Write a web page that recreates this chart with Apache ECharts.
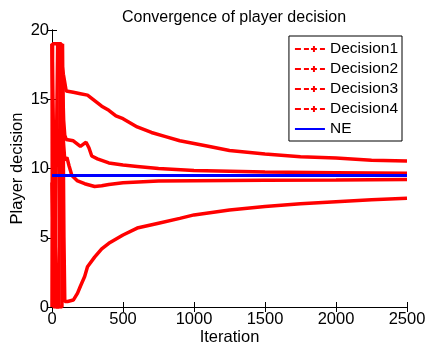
<!DOCTYPE html>
<html lang="en">
<head>
    <meta charset="utf-8"/>
    <title>Convergence of player decision</title>
    <script src="https://cdn.jsdelivr.net/npm/echarts@6/dist/echarts.min.js"></script>
</head>
<style>
    body { margin: 0; background: #fff; }
</style>
<body>
<div id="main" style="width: 426px;height: 348px;"></div>
<script>
    // [iteration, decision]
    var decision1 = [[0, 0], [4, 19], [45, 19], [60, 18.5], [70, 17.5], [80, 16.8], [90, 16.2], [100, 15.6],
        [150, 15.5], [200, 15.4], [250, 15.3], [300, 14.9], [350, 14.5], [400, 14.2], [450, 13.8], [500, 13.6],
        [600, 13.0], [700, 12.6], [800, 12.3], [900, 12.0], [1000, 11.8], [1100, 11.6], [1250, 11.3],
        [1500, 11.05], [1750, 10.85], [2000, 10.75], [2250, 10.6], [2500, 10.55]];
    var decision2 = [[0, 19], [12, 19], [30, 0], [48, 0], [58, 19], [68, 18], [75, 16], [82, 13.5], [90, 12.4],
        [100, 12.1], [150, 12.0], [200, 11.6], [240, 11.9], [260, 11.5], [280, 10.9], [320, 10.7], [400, 10.4],
        [500, 10.25], [600, 10.15], [750, 10.0], [1000, 9.85], [1250, 9.8], [1500, 9.75], [2000, 9.7], [2500, 9.65]];
    var decision3 = [[0, 9], [18, 0], [28, 0], [40, 19], [65, 19], [72, 15], [80, 12], [90, 10.6], [105, 10.8],
        [120, 10.2], [140, 9.5], [180, 9.1], [230, 8.9], [300, 8.7], [350, 8.75], [400, 8.85], [500, 8.97],
        [750, 9.1], [1000, 9.12], [1500, 9.15], [2000, 9.17], [2500, 9.2]];
    var decision4 = [[0, 19], [8, 1], [12, 0], [70, 0], [74, 19], [79, 19], [84, 5], [90, 0.4], [110, 0.4],
        [150, 0.5], [180, 1.0], [200, 1.5], [230, 2.2], [250, 2.9], [300, 3.6], [350, 4.2], [400, 4.6],
        [500, 5.2], [600, 5.7], [750, 6.05], [900, 6.4], [1000, 6.65], [1250, 7.0], [1500, 7.25], [1750, 7.45],
        [2000, 7.6], [2250, 7.75], [2500, 7.85]];
    var ne = [[0, 9.5], [2500, 9.5]];
    var names = ['Decision1', 'Decision2', 'Decision3', 'Decision4', 'NE'];

    var font = 'Liberation Sans, Arial, sans-serif';
    // dashed line with a plus, like the matlab legend
    var dashPlus = 'path://M0,2H6V4H0Z M9,2H14V4H9Z M16,2H22V4H16Z M18,0H20V6H18Z M25,2H30V4H25Z';
    var solidBar = 'path://M0,0H30V2H0Z';

    var myChart = echarts.init(document.getElementById('main'));
    var option;

    function redLine(name, data) {
        return {
            name: name,
            type: 'line',
            data: data,
            symbol: 'none',
            itemStyle: {color: '#ff0000'},
            lineStyle: {color: '#ff0000', width: 3.5},
            animation: false
        };
    }

    function axisText(v) {
        return String(v);
    }

    option = {
        backgroundColor: '#fff',
        title: {
            text: 'Convergence of player decision',
            left: 229,
            textAlign: 'center',
            top: 5,
            textStyle: {fontFamily: font, fontSize: 16, fontWeight: 'normal', color: '#000'}
        },
        legend: {
            right: 24,
            top: 36,
            orient: 'vertical',
            itemWidth: 30,
            itemHeight: 6,
            itemGap: 4,
            padding: [5, 4, 4, 6],
            borderColor: '#000',
            borderWidth: 1,
            backgroundColor: '#fff',
            textStyle: {fontFamily: font, fontSize: 15.5, color: '#000'},
            data: [
                {name: 'Decision1', icon: dashPlus, itemStyle: {color: '#ff0000'}},
                {name: 'Decision2', icon: dashPlus, itemStyle: {color: '#ff0000'}},
                {name: 'Decision3', icon: dashPlus, itemStyle: {color: '#ff0000'}},
                {name: 'Decision4', icon: dashPlus, itemStyle: {color: '#ff0000'}},
                {name: 'NE', icon: solidBar, itemStyle: {color: '#0000ff'}}
            ]
        },
        grid: {left: 52, right: 19, top: 30, bottom: 41, outerBoundsMode: 'none'},
        xAxis: [{
            type: 'value',
            min: 0,
            max: 2500,
            interval: 500,
            name: 'Iteration',
            nameLocation: 'middle',
            nameGap: 22,
            nameMoveOverlap: false,
            nameTextStyle: {fontFamily: font, fontSize: 16.5, color: '#000'},
            axisLine: {lineStyle: {color: '#000', width: 1}},
            axisTick: {inside: true, length: 5, lineStyle: {color: '#000'}},
            axisLabel: {fontFamily: font, fontSize: 16.5, color: '#000', margin: 4, formatter: axisText},
            splitLine: {show: false}
        }, {
            type: 'value',
            position: 'top',
            min: 0,
            max: 2500,
            interval: 500,
            axisLine: {show: true, lineStyle: {color: '#000', width: 1}},
            axisTick: {inside: true, length: 5, lineStyle: {color: '#000'}},
            axisLabel: {show: false},
            splitLine: {show: false}
        }],
        yAxis: [{
            type: 'value',
            min: 0,
            max: 20,
            interval: 5,
            name: 'Player decision',
            nameLocation: 'middle',
            nameGap: 26,
            nameMoveOverlap: false,
            nameRotate: 90,
            nameTextStyle: {fontFamily: font, fontSize: 16.5, color: '#000'},
            axisLine: {show: true, lineStyle: {color: '#000', width: 1}},
            axisTick: {show: true, inside: true, length: 5, lineStyle: {color: '#000'}},
            axisLabel: {fontFamily: font, fontSize: 16.5, color: '#000', margin: 3, formatter: axisText},
            splitLine: {show: false}
        }, {
            type: 'value',
            position: 'right',
            min: 0,
            max: 20,
            interval: 5,
            axisLine: {show: true, lineStyle: {color: '#000', width: 1}},
            axisTick: {show: true, inside: true, length: 5, lineStyle: {color: '#000'}},
            axisLabel: {show: false},
            splitLine: {show: false}
        }],
        series: [
            redLine(names[0], decision1),
            redLine(names[1], decision2),
            redLine(names[2], decision3),
            redLine(names[3], decision4),
            {
                name: names[4],
                type: 'line',
                data: ne,
                symbol: 'none',
                itemStyle: {color: '#0000ff'},
                lineStyle: {color: '#0000ff', width: 3},
                z: 3,
                animation: false
            }
        ]
    };
    option && myChart.setOption(option);
</script>
</body>
</html>
